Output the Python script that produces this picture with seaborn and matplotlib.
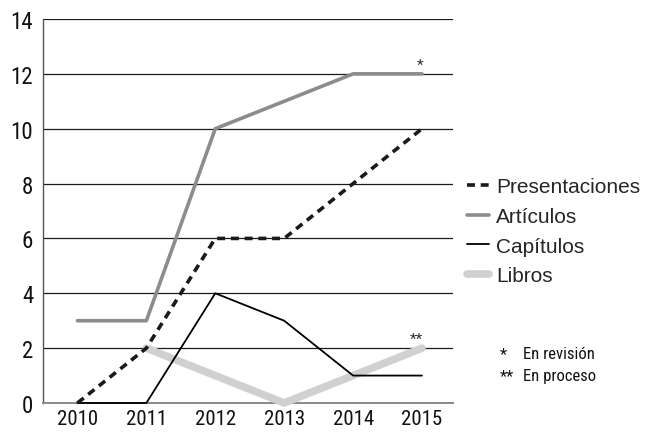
import matplotlib
matplotlib.use("Agg")
import matplotlib.pyplot as plt
import seaborn as sns
import numpy as np
import pandas as pd
from matplotlib import font_manager

years = [2010, 2011, 2012, 2013, 2014, 2015]
presentaciones = [0, 2, 6, 6, 8, 10]
articulos = [3, 3, 10, 11, 12, 12]
capitulos = [0, 0, 4, 3, 1, 1]
libros = [np.nan, 2, 1, 0, 1, 2]
series_names = ["Presentaciones", "Artículos", "Capítulos", "Libros"]
yticks = [0, 2, 4, 6, 8, 10, 12, 14]
note_marks = ["*", "**"]
note_texts = ["En revisión", "En proceso"]

sns.set_theme(style="white")
avail = {f.name for f in font_manager.fontManager.ttflist}
def pick(cands):
    for c in cands:
        if c in avail:
            return c
    return "DejaVu Sans"
narrow = pick(["Roboto Condensed", "Archivo Narrow", "PT Sans Narrow", "Liberation Sans Narrow"])
regular = pick(["Liberation Sans", "Arimo", "Roboto"])
plt.rcParams['font.family'] = [regular, 'DejaVu Sans']
NF = [narrow, 'DejaVu Sans']

fig = plt.figure(figsize=(6.47, 4.35), dpi=100)
ax = fig.add_axes([43/647, 31/435, 410/647, 384/435])

styles = {
    "Presentaciones": dict(color="#1a1a1a", lw=2.6, ls=(0, (2.2, 1.6))),
    "Artículos": dict(color="#8c8c8c", lw=2.6, ls="-"),
    "Capítulos": dict(color="#000000", lw=1.3, ls="-"),
    "Libros": dict(color="#d0d0d0", lw=5.5, ls="-"),
}
values = {"Presentaciones": presentaciones, "Artículos": articulos,
          "Capítulos": capitulos, "Libros": libros}

for name in ["Libros", "Artículos", "Capítulos", "Presentaciones"]:
    df = pd.DataFrame({"year": years, "val": values[name]}).dropna()
    st = styles[name]
    sns.lineplot(data=df, x="year", y="val", ax=ax, color=st["color"],
                 linewidth=st["lw"], linestyle=st["ls"], label=name, legend=False,
                 clip_on=False, zorder=3)

ax.set_xlim(2009.5, 2015.45)
ax.set_ylim(0, 14)
ax.set_yticks(yticks)
ax.set_xticks(years)
ax.set_xticklabels([str(y) for y in years], fontsize=15, family=NF)
ax.set_yticklabels([str(y) for y in yticks], fontsize=16.5, family=NF)
ax.set_xlabel("")
ax.set_ylabel("")
for y in yticks[1:]:
    ax.axhline(y, color="#1a1a1a", lw=0.9, zorder=1)
for s in ["top", "right"]:
    ax.spines[s].set_visible(False)
ax.spines["left"].set_color("#555555")
ax.spines["left"].set_linewidth(1.0)
ax.spines["bottom"].set_color("#888888")
ax.spines["bottom"].set_linewidth(1.4)
ax.tick_params(axis="y", length=0, pad=7, colors="#111111")
ax.tick_params(axis="x", length=0, pad=4, colors="#111111")

ax.text(2014.97, 12.08, "*", ha="center", va="bottom", fontsize=11, color="#333333", family=NF)
ax.text(2014.92, 2.08, "**", ha="center", va="bottom", fontsize=11, color="#333333", family=NF)

handles, labels = ax.get_legend_handles_labels()
order = [labels.index(n) for n in series_names]
fig.legend([handles[i] for i in order], [labels[i] for i in order],
           loc="upper left", bbox_to_anchor=(467/647, 1 - 178/435), frameon=False,
           fontsize=15, handlelength=1.05, handletextpad=0.35, labelspacing=0.52,
           borderaxespad=0, borderpad=0)

for i, (m, t) in enumerate(zip(note_marks, note_texts)):
    yy = 1 - (355 + 22 * i) / 435
    fig.text(500/647, yy, m, fontsize=12, va="center", family=NF, color="#111111")
    fig.text(523/647, yy, t, fontsize=12, va="center", family=NF, color="#111111")

fig.savefig("out.png", dpi=100)
